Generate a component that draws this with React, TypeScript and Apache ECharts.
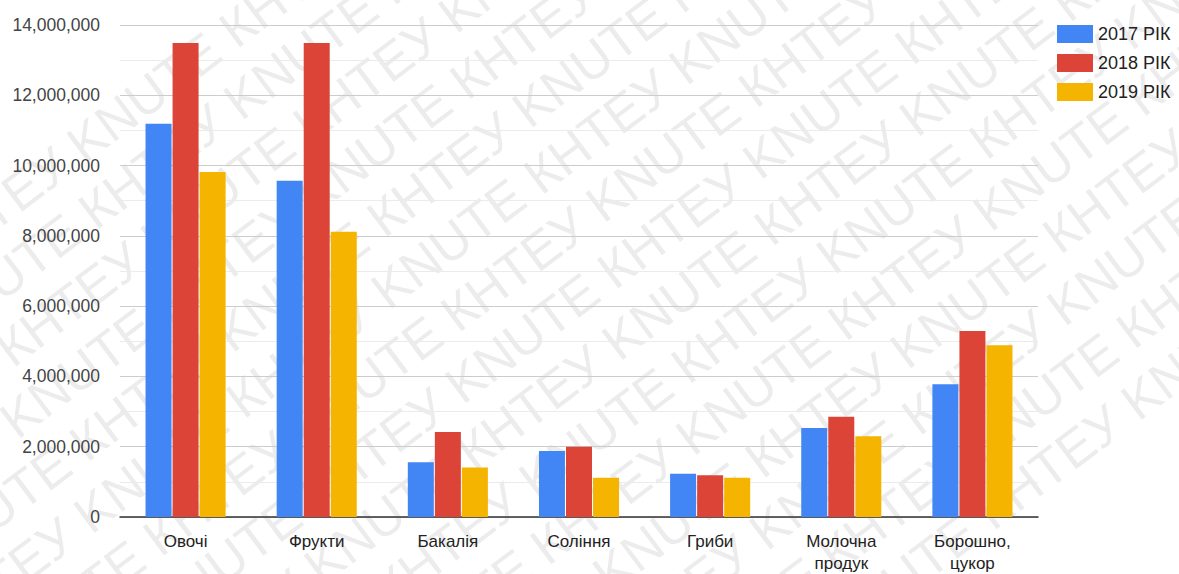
import React, { useEffect, useRef } from "react";
import * as echarts from "echarts";

const categories = ["Овочі", "Фрукти", "Бакалія", "Соління", "Гриби", "Молочна продук", "Борошно, цукор"];
const seriesNames = ["2017 РІК", "2018 РІК", "2019 РІК"];
const values2017 = [11190000, 9570000, 1560000, 1880000, 1230000, 2530000, 3780000];
const values2018 = [13490000, 13490000, 2420000, 2000000, 1190000, 2850000, 5290000];
const values2019 = [9820000, 8120000, 1410000, 1120000, 1120000, 2300000, 4890000];
const colors = ["#4285f4", "#db4437", "#f4b400"];
const watermarkText = "КНТЕУ KNUTE";

export default function App() {
  const ref = useRef<HTMLDivElement>(null);
  useEffect(() => {
    if (!ref.current) return;
    const chart = echarts.init(ref.current, undefined, { renderer: "svg" });
    const font = "Arial, 'Liberation Sans', sans-serif";
    const lines: any[] = [];
    const longText = Array(9).fill(watermarkText).join(" ");
    for (let k = -7; k <= 7; k++) {
      lines.push({
        type: "text",
        x: -1100 + ((k * 151) % 300),
        y: k * 60,
        silent: true,
        style: {
          text: longText,
          font: `52px ${font}`,
          fill: "rgba(0,0,0,0.075)",
          textVerticalAlign: "middle",
        },
      });
    }
    const mk = (i: number, data: number[]) => ({
      name: seriesNames[i],
      type: "bar",
      data,
      barWidth: 26,
      barGap: "4%",
      itemStyle: { color: colors[i] },
    });
    chart.setOption({
      animation: false,
      color: colors,
      textStyle: { fontFamily: font },
      grid: { left: 120, right: 141, top: 25, bottom: 55, containLabel: false },
      legend: {
        orient: "vertical",
        left: 1052,
        top: 20,
        itemWidth: 36,
        itemHeight: 18,
        itemGap: 11,
        icon: "rect",
        textStyle: { fontSize: 18, color: "#222", fontFamily: font },
        data: seriesNames,
      },
      xAxis: {
        type: "category",
        data: categories,
        axisLine: { lineStyle: { color: "#333", width: 1.5 } },
        axisTick: { show: false },
        axisLabel: {
          fontSize: 17,
          color: "#222",
          margin: 13,
          lineHeight: 22,
          interval: 0,
          formatter: (v: string) => v.replace(" ", "\n"),
        },
      },
      yAxis: {
        type: "value",
        min: 0,
        max: 14000000,
        interval: 2000000,
        axisLine: { show: false },
        axisTick: { show: false },
        axisLabel: {
          fontSize: 17.5,
          color: "#444",
          margin: 20,
          formatter: (v: number) => v.toLocaleString("en-US"),
        },
        splitLine: { lineStyle: { color: "#cccccc", width: 1 } },
        minorSplitLine: { show: true, lineStyle: { color: "#ebebeb", width: 1 } },
        minorTick: { show: false, splitNumber: 2 },
      },
      graphic: [
        {
          type: "group",
          x: 590,
          y: 287,
          rotation: (37 * Math.PI) / 180,
          silent: true,
          z: 100,
          children: lines,
        },
      ],
      series: [mk(0, values2017), mk(1, values2018), mk(2, values2019)],
    });
    return () => chart.dispose();
  }, []);
  return (
    <div
      ref={ref}
      style={{ position: "fixed", left: 0, top: 0, width: 1179, height: 574, background: "#fff" }}
    />
  );
}
